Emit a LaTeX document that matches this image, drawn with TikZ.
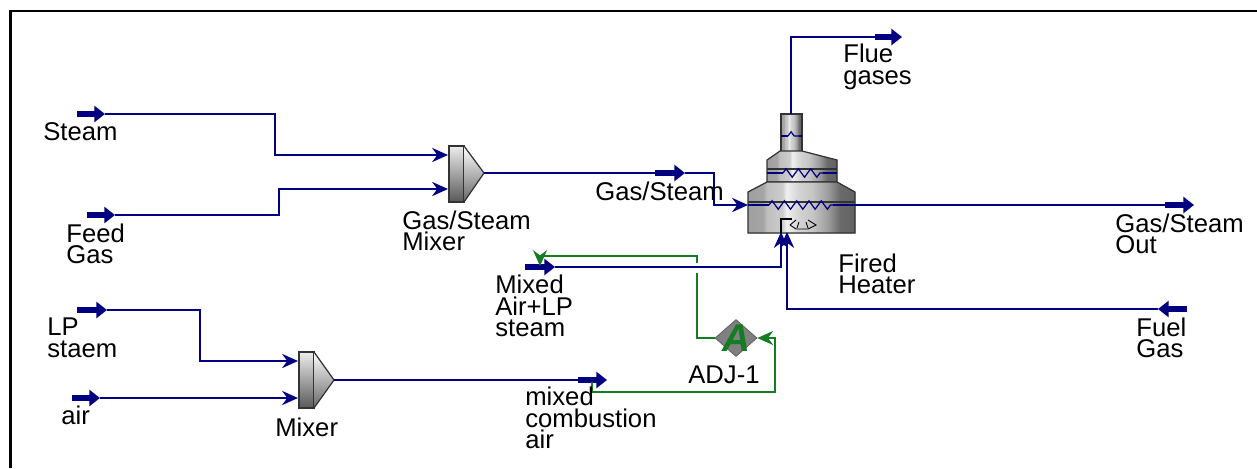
\documentclass[tikz,border=0pt]{standalone}
\usepackage{xcolor}
\usepackage{fontspec}
\setmainfont{Liberation Sans}
\usetikzlibrary{shapes,arrows,positioning,calc,decorations.pathmorphing,arrows.meta}

\definecolor{streamblue}{RGB}{0,0,128}
\definecolor{adjgreen}{RGB}{20,125,35}

\pgfdeclarehorizontalshading{heatershade}{100bp}{
  color(0bp)=(gray!75); color(25bp)=(gray!75); color(32bp)=(gray!70); color(34bp)=(gray!50);
  color(41bp)=(gray!40); color(43bp)=(gray!12); color(49bp)=(gray!35); color(55bp)=(gray!45);
  color(62bp)=(gray!75); color(68bp)=(black!58); color(75bp)=(black!62); color(100bp)=(black!62)}

\tikzset{
  stream/.style={draw=streamblue, line width=1.5pt},
  feedtip/.style={draw=streamblue, line width=3pt, -{Triangle[length=6pt,width=9pt]}},
  intip/.style={-{Stealth[length=9pt,width=8pt]}},
  signal/.style={draw=adjgreen, line width=0.6pt},
  signaltip/.style={-{Stealth[length=9pt,width=8pt]}},
  lbl/.style={anchor=west, align=left, inner sep=0pt, font=\fontsize{14.6}{12.2}\selectfont},
  coil/.style={draw=streamblue, line width=0.7pt, decorate,
    decoration={zigzag, amplitude=2.4pt, segment length=7pt}},
  unit/.style={draw=black!80, line width=0.7pt},
  mixerbody/.style={top color=gray!15, middle color=gray!50, bottom color=black!65, shading=axis},
  mixercone/.style={top color=white, middle color=gray!30, bottom color=black!60, shading=axis}
}

\begin{document}
\begin{tikzpicture}[x=0.02cm,y=-0.02cm]
    \useasboundingbox (0,0) rectangle (1257,468);
    % frame
    \draw[line width=1.5pt] (10.5,468) -- (10.5,11) -- (1257,11);

    % feed stream ends
    \coordinate (steamin) at (77,114);
    \coordinate (steamtip) at (105,114);
    \coordinate (feedin) at (87,215);
    \coordinate (feedtip) at (115,215);
    \coordinate (lpin) at (77,310);
    \coordinate (lptip) at (107,310);
    \coordinate (airin) at (72,398);
    \coordinate (airtip) at (100,398);
    \coordinate (mixedin) at (525,267);
    \coordinate (mixedtip) at (555,267);
    \coordinate (fuelin) at (1187,309);
    \coordinate (fueltip) at (1158,309);

    % Gas/Steam Mixer
    \shade[mixerbody] (449,146) rectangle (464,202);
    \draw[unit] (449,146) rectangle (464,202);
    \shade[mixercone] (464,146) -- (484,173) -- (464,202) -- cycle;
    \draw[unit] (464,146) -- (484,173) -- (464,202);
    \coordinate (gsmixtop) at (448,155);
    \coordinate (gsmixbot) at (448,189);
    \coordinate (gsmixout) at (484,173);

    % Mixer
    \shade[mixerbody] (299,352) rectangle (314,408);
    \draw[unit] (299,352) rectangle (314,408);
    \shade[mixercone] (314,352) -- (334,380) -- (314,408) -- cycle;
    \draw[unit] (314,352) -- (334,380) -- (314,408);
    \coordinate (mixtop) at (298,361);
    \coordinate (mixbot) at (298,398);
    \coordinate (mixout) at (334,380);

    % Fired Heater
    \fill[shading=heatershade] (781,114) rectangle (802,151);
    \draw[unit] (781,151) -- (781,114) -- (802,114) -- (802,151);
    \fill[shading=heatershade] (767,160) -- (780,151) -- (802,151) -- (837,160) -- (837,182) -- (767,182) -- cycle;
    \draw[unit] (767,182) -- (767,160) -- (780,151) -- (802,151) -- (837,160) -- (837,182) -- cycle;
    \fill[shading=heatershade] (748,192) -- (767,182) -- (837,182) -- (855,192) -- (855,233) -- (748,233) -- cycle;
    \draw[unit] (748,233) -- (748,192) -- (767,182) -- (837,182) -- (855,192) -- (855,233) -- cycle;
    \draw[unit] (748,202) -- (855,202);
    \draw[unit] (767,169) -- (837,169);
    \draw[draw=streamblue, line width=0.7pt] (748,205) -- (769,205) (833,205) -- (855,205);
    \draw[draw=streamblue, line width=0.7pt] (767,173) -- (783,173) (823,173) -- (837,173);
    \draw[draw=streamblue, line width=0.7pt] (781,136) -- (788,136) (799,136) -- (802,136);
    \draw[coil] (769,205) -- (833,205);
    \draw[coil] (783,173) -- (823,173);
    \draw[coil] (788,136) -- (799,136);
    % burner
    \draw[line width=1pt] (781,233) -- (781,219) -- (792,219);
    \draw[line width=0.5pt] (790,225) -- (796,220) (808,220) -- (816,225) -- (808,229) -- (796,229) -- (790,225);
    \draw[line width=0.5pt] (799,222) -- (797,228) (806,222) -- (808,228);
    \coordinate (heaterin) at (748,205);
    \coordinate (heaterout) at (855,205);
    \coordinate (heatertop) at (791,114);
    \coordinate (airport) at (781,232);
    \coordinate (fuelport) at (787,232);

    % product stream ends
    \coordinate (gstail) at (655,173);
    \coordinate (gstip) at (685,173);
    \coordinate (outtail) at (1165,205);
    \coordinate (outtip) at (1194,205);
    \coordinate (fluetail) at (875,37);
    \coordinate (fluetip) at (902,37);
    \coordinate (mcatail) at (578,380);
    \coordinate (mcatip) at (607,380);

    % streams
    \draw[stream,intip] (steamtip) -- (275,114) -- (275,155) -- (gsmixtop);
    \draw[stream,intip] (feedtip) -- (279,215) -- (279,189) -- (gsmixbot);
    \draw[stream,intip] (lptip) -- (200,310) -- (200,361) -- (mixtop);
    \draw[stream,intip] (airtip) -- (mixbot);
    \draw[stream] (gsmixout) -- (gstail);
    \draw[stream,intip] (gstip) -- (714,173) -- (714,205) -- (heaterin);
    \draw[stream] (heaterout) -- (outtail);
    \draw[stream] (heatertop) -- (791,37) -- (fluetail);
    \draw[stream] (mixout) -- (mcatail);
    \draw[stream,intip] (mixedtip) -- (781,267) -- (airport);
    \draw[stream,intip] (fueltip) -- (787,309) -- (fuelport);

    \draw[feedtip] (steamin) -- (steamtip);
    \draw[feedtip] (feedin) -- (feedtip);
    \draw[feedtip] (lpin) -- (lptip);
    \draw[feedtip] (airin) -- (airtip);
    \draw[feedtip] (mixedin) -- (mixedtip);
    \draw[feedtip] (fuelin) -- (fueltip);
    \draw[feedtip] (gstail) -- (gstip);
    \draw[feedtip] (outtail) -- (outtip);
    \draw[feedtip] (fluetail) -- (fluetip);
    \draw[feedtip] (mcatail) -- (mcatip);

    % Adjust
    \node[diamond, fill=gray, draw=gray!70!black, inner sep=0pt, minimum width=42*0.02cm, minimum height=37*0.02cm] (adj) at (736,338) {};
    \node[inner sep=0pt, font=\fontsize{22}{22}\selectfont\bfseries\itshape, text=adjgreen] (adjletter) at (736,338) {A};
    \coordinate (mcatap) at (592,382);
    \coordinate (mixedtap) at (540,266);
    \draw[signal,signaltip] (mcatap) -- (592,392) -- (775,392) -- (775,338) -- (adj.east);
    \draw[signal] (adj.west) -- (697,338) -- (697,273);
    \draw[signal,signaltip] (697,263) -- (697,256) -- (540,256) -- (mixedtap);

    % labels
    \node[lbl] (steamlbl) at (43,132) {Steam};
    \node[lbl] (feedlbl) at (66,244) {Feed\\Gas};
    \node[lbl] (lplbl) at (47,338) {LP\\staem};
    \node[lbl] (airlbl) at (61,415) {air};
    \node[lbl] (mixerlbl) at (275,427) {Mixer};
    \node[lbl] (gsmixlbl) at (402,231) {Gas/Steam\\Mixer};
    \node[lbl] (gslbl) at (595,191) {Gas/Steam};
    \node[lbl] (fluelbl) at (843,67) {Flue\\gases};
    \node[lbl] (outlbl) at (1115,234) {Gas/Steam\\Out};
    \node[lbl] (heaterlbl) at (838,274) {Fired\\Heater};
    \node[lbl] (mixedlbl) at (495,306) {Mixed\\Air+LP\\steam};
    \node[lbl] (fuellbl) at (1136,338) {Fuel\\Gas};
    \node[lbl] (adjlbl) at (688,375) {ADJ-1};
    \node[lbl] (mcalbl) at (525,418) {mixed\\combustion\\air};
\end{tikzpicture}
\end{document}
